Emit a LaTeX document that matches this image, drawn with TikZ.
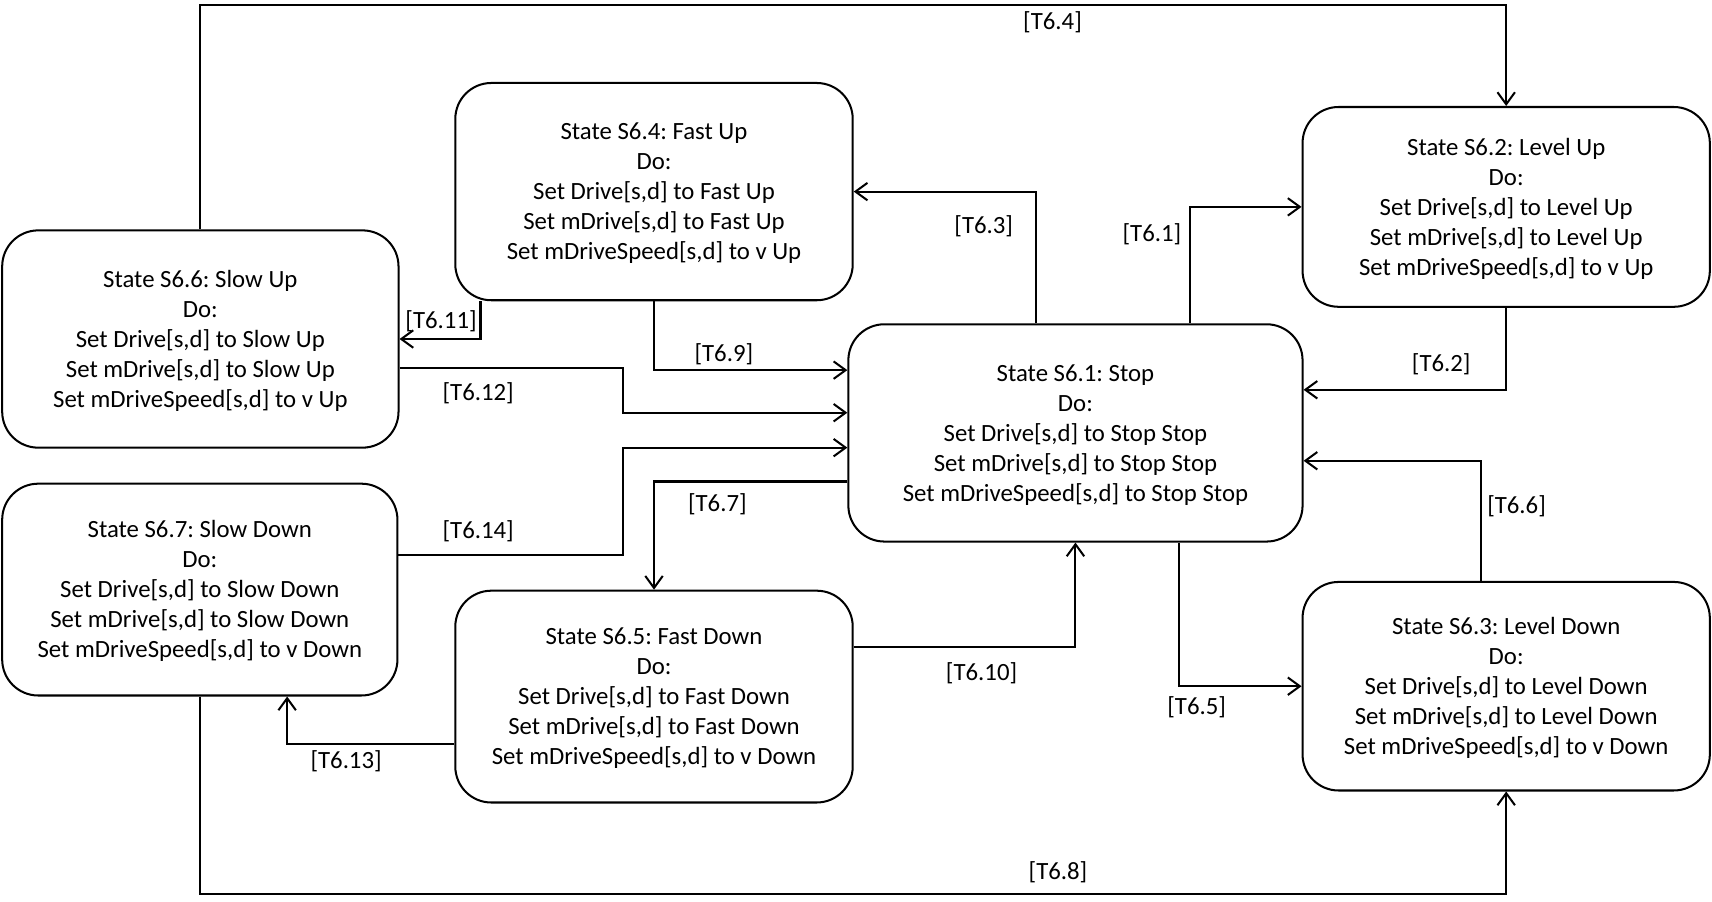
\documentclass[tikz,border=0pt]{standalone}
\usepackage{fontspec}
\setmainfont{Carlito}
\frenchspacing
\usetikzlibrary{arrows.meta}
\newcommand\topstrut{\rule{0pt}{18.6pt}}
\tikzset{
  statebox/.style={draw, line width=1.85pt, rounded corners=33pt, inner sep=0pt, align=center,
    font=\fontsize{22.7pt}{27.5pt}\selectfont},
  arr/.style={line width=1.85pt, -{Straight Barb[length=11pt,width=16pt]}},
  lbl/.style={inner sep=0pt, font=\fontsize{22.7pt}{27.5pt}\selectfont}
}
\begin{document}
\begin{tikzpicture}[x=1pt,y=-1pt]
\useasboundingbox (0,0) rectangle (1568,826);
% states
\node[statebox, minimum width=364pt, minimum height=199pt] (s64) at (599,175.5)
  {\topstrut State S6.4: Fast Up\\Do:\\Set Drive[s,d] to Fast Up\\Set mDrive[s,d] to Fast Up\\Set mDriveSpeed[s,d] to v Up};
\node[statebox, minimum width=373pt, minimum height=183pt] (s62) at (1379.5,189.5)
  {\topstrut State S6.2: Level Up\\Do:\\Set Drive[s,d] to Level Up\\Set mDrive[s,d] to Level Up\\Set mDriveSpeed[s,d] to v Up};
\node[statebox, minimum width=363pt, minimum height=199pt] (s66) at (183.5,310.5)
  {\topstrut State S6.6: Slow Up\\Do:\\Set Drive[s,d] to Slow Up\\Set mDrive[s,d] to Slow Up\\Set mDriveSpeed[s,d] to v Up};
\node[statebox, minimum width=416pt, minimum height=199pt] (s61) at (985,396.5)
  {\topstrut State S6.1: Stop\\Do:\\Set Drive[s,d] to Stop Stop\\Set mDrive[s,d] to Stop Stop\\Set mDriveSpeed[s,d] to Stop Stop};
\node[statebox, minimum width=362pt, minimum height=194pt] (s67) at (183,540)
  {\topstrut State S6.7: Slow Down\\Do:\\Set Drive[s,d] to Slow Down\\Set mDrive[s,d] to Slow Down\\Set mDriveSpeed[s,d] to v Down};
\node[statebox, minimum width=364pt, minimum height=194pt] (s65) at (599,638)
  {\topstrut State S6.5: Fast Down\\Do:\\Set Drive[s,d] to Fast Down\\Set mDrive[s,d] to Fast Down\\Set mDriveSpeed[s,d] to v Down};
\node[statebox, minimum width=373pt, minimum height=191pt] (s63) at (1379.5,628.5)
  {\topstrut State S6.3: Level Down\\Do:\\Set Drive[s,d] to Level Down\\Set mDrive[s,d] to Level Down\\Set mDriveSpeed[s,d] to v Down};
% helper coordinates
\coordinate (top) at (700,5);
\coordinate (bot) at (700,819);
% transitions
\draw[arr] (s66.north) |- (top) -| (s62.north);
\draw[arr] ([xshift=-36pt]s61.north) |- (s64.east);
\draw[arr] ([xshift=105pt]s61.north) |- (s62.west);
\draw[arr] (s62.south) |- ([yshift=39.5pt]s61.east);
\draw[arr] ([xshift=24pt]s64.south west) |- (s66.east);
\draw[arr] (s64.south) |- ([yshift=57.5pt]s61.west);
\draw[arr] ([yshift=-26.5pt]s66.east) -- ++(205,0) |- ([yshift=18.5pt]s61.west);
\draw[arr] ([yshift=32pt]s67.east) -- ++(206,0) |- ([yshift=-13.5pt]s61.west);
\draw[arr] ([yshift=-44.5pt]s61.west) -| (s65.north);
\draw[arr] ([yshift=45pt]s65.east) -| (s61.south);
\draw[arr] ([xshift=95pt]s61.south) |- (s63.west);
\draw[arr] ([xshift=-23.5pt]s63.north) |- ([yshift=-25.5pt]s61.east);
\draw[arr] ([yshift=-43pt]s65.west) -| ([xshift=80pt]s67.south);
\draw[arr] (s67.south) |- (bot) -| (s63.south);
% labels
\node[lbl] (l4) at (964,20.5) {[T6.4]};
\node[lbl] (l3) at (901,207.5) {[T6.3]};
\node[lbl] (l1) at (1055,214.5) {[T6.1]};
\node[lbl] (l2) at (1320,333.5) {[T6.2]};
\node[lbl] (l11) at (404,294.5) {[T6.11]};
\node[lbl] (l9) at (663,324.5) {[T6.9]};
\node[lbl] (l12) at (438,360.5) {[T6.12]};
\node[lbl] (l14) at (438,486.5) {[T6.14]};
\node[lbl] (l7) at (657,461.5) {[T6.7]};
\node[lbl] (l10) at (899,616.5) {[T6.10]};
\node[lbl] (l5) at (1096,647.5) {[T6.5]};
\node[lbl] (l6) at (1389,463.5) {[T6.6]};
\node[lbl] (l13) at (317,697.5) {[T6.13]};
\node[lbl] (l8) at (969,798.5) {[T6.8]};
\end{tikzpicture}
\end{document}
